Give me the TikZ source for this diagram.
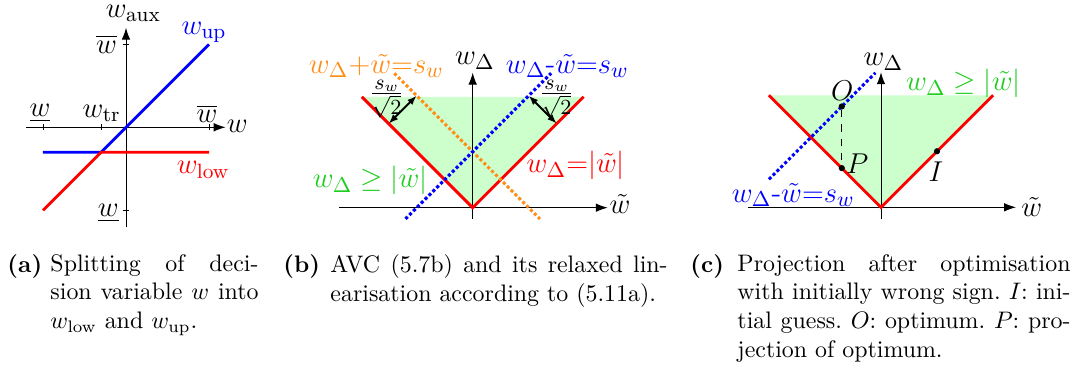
\documentclass[tikz,border=0pt]{standalone}
\usepackage{amsmath}
\usetikzlibrary{arrows.meta}
\definecolor{fillgreen}{RGB}{204,255,204}
\definecolor{textgreen}{RGB}{30,205,30}
\definecolor{dotorange}{RGB}{255,140,20}
\newcommand{\labsize}{\fontsize{12.4}{15}\selectfont}
\begin{document}
\begin{tikzpicture}[x=0.01471cm,y=0.01471cm,
    axis/.style={-{Latex[length=5pt,width=3.6pt]}},
    curve/.style={line width=1.2pt},
    dots/.style={line width=1.3pt,densely dotted},
    gap/.style={{Latex[length=4pt,width=3pt]}-{Latex[length=4pt,width=3pt]},line width=0.8pt},
    pt/.style={circle,fill,inner sep=0pt,minimum size=2.6pt},
    capt/.style={inner sep=0pt,anchor=north west,align=justify}]
\useasboundingbox (0,0) rectangle (1075,372);

% (a) splitting
\begin{scope}[shift={(126,244.7)},x=1.221cm,y=1.221cm,every node/.style={font=\labsize}]
  \draw[axis] (-1.2,0) -- (1.2,0);
  \draw[axis] (0,-1.2) -- (0,1.2);
  \foreach \t in {-1,-0.3,1} \draw (\t,-0.035) -- (\t,0.035);
  \foreach \t in {-1,1} \draw (-0.035,\t) -- (0.035,\t);
  \draw[curve,blue] (-1,-0.3) -- (-0.3,-0.3) -- (1,1);
  \draw[curve,red] (-1,-1) -- (-0.3,-0.3) -- (1,-0.3);
  \node (w) at (1.34,0.01) {$w$};
  \node (waux) at (0.09,1.375) {$w_\text{aux}$};
  \node (wup) at (0.94,1.144) {\color{blue}$w_\text{up}$};
  \node (wlow) at (0.93,-0.514) {\color{red}$w_\text{low}$};
  \node (wmin) at (-1.036,0.169) {$\underline{w}$};
  \node (wtr) at (-0.293,0.169) {$w_\text{tr}$};
  \node (wmax) at (0.976,0.164) {$\overline{w}$};
  \node (wmaxv) at (-0.233,1.004) {$\overline{w}$};
  \node (wminv) at (-0.213,-1.036) {$\underline{w}$};
\end{scope}

% (b) relaxation
\begin{scope}[shift={(472.7,164.3)},x=0.824cm,y=0.824cm,every node/.style={font=\labsize}]
  \fill[fillgreen] (-1.98,1.98) -- (0,0) -- (1.98,1.98) -- cycle;
  \draw[axis] (-2.38,0) -- (2.41,0);
  \draw[axis] (0,-0.2) -- (0,2.41);
  \draw[curve,red] (-1.98,1.98) -- (0,0) -- (1.98,1.98);
  \draw[dots,dotorange] (-1.4,2.4) -- (1.2,-0.2);
  \draw[dots,blue] (-1.2,-0.2) -- (1.4,2.4);
  \draw[gap] (-1.5,1.5) -- (-1,2);
  \draw[gap] (1,2) -- (1.5,1.5);
  \node (wd) at (0.04,2.625) {$w_\Delta$};
  \node (wt) at (2.63,0.066) {$\tilde{w}$};
  \node (plus) at (-1.72,2.53) {\color{dotorange}$w_\Delta{+}\tilde{w}{=}s_w$};
  \node (minus) at (1.69,2.53) {\color{blue}$w_\Delta$-$\tilde{w}{=}s_w$};
  \node (abs) at (1.84,0.75) {\color{red}$w_\Delta{=}|\tilde{w}|$};
  \node (geq) at (-1.83,0.48) {\color{textgreen}$w_\Delta \geq |\tilde{w}|$};
  \node (fl) at (-1.536,1.94) {$\frac{s_w}{\sqrt{2}}$};
  \node (fr) at (1.5,1.94) {$\frac{s_w}{\sqrt{2}}$};
\end{scope}

% (c) projection
\begin{scope}[shift={(881,164.7)},x=0.824cm,y=0.824cm,every node/.style={font=\labsize}]
  \fill[fillgreen] (-2,2) -- (0,0) -- (2,2) -- cycle;
  \draw[axis] (-2.38,0) -- (2.41,0);
  \draw[axis] (0,-0.2) -- (0,2.41);
  \draw[curve,red] (-2,2) -- (0,0) -- (2,2);
  \draw[dots,blue] (-2,0.5) -- (-0.1,2.4);
  \node[pt] (O) at (-0.7,1.8) {};
  \node[pt] (P) at (-0.7,0.7) {};
  \node[pt] (I) at (1,1) {};
  \draw[dashed] (O) -- (P);
  \node (Ol) at (-0.69,2.09) {$O$};
  \node (Pl) at (-0.42,0.77) {$P$};
  \node (Il) at (0.98,0.64) {$I$};
  \node (wd2) at (0.042,2.6) {$w_\Delta$};
  \node (wt2) at (2.69,0) {$\tilde{w}$};
  \node (geq2) at (1.47,2.21) {\color{textgreen}$w_\Delta \geq |\tilde{w}|$};
  \node (minus2) at (-1.565,0.22) {\color{blue}$w_\Delta$-$\tilde{w}{=}s_w$};
\end{scope}

% captions
\node[capt] (ca) at (7,118) {\textbf{(a)}};
\node[capt,text width=3.06cm] (ta) at (50,118)
  {Splitting of deci-\linebreak sion variable $w$ into $w_\text{low}$ and $w_\text{up}$.};
\node[capt] (cb) at (283,118) {\textbf{(b)}};
\node[capt,text width=4.96cm] (tb) at (330,118)
  {AVC (5.7b) and its relaxed lin-\linebreak earisation according to (5.11a).};
\node[capt] (cc) at (690,118) {\textbf{(c)}};
\node[capt,text width=4.9cm] (tc) at (737,118)
  {\frenchspacing Projection after optimisation\linebreak with initially wrong sign. $I$: ini-\linebreak tial guess. $O$: optimum. $P$: pro-\linebreak jection of optimum.};
\end{tikzpicture}
\end{document}
